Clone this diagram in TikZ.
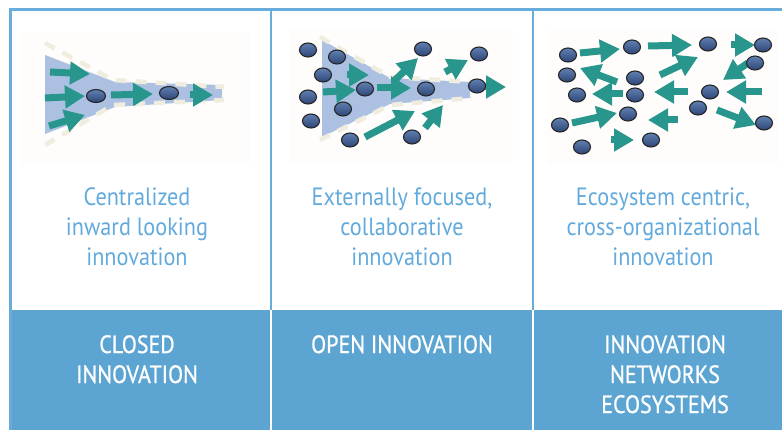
\documentclass[tikz,border=0pt]{standalone}
\usepackage{fontspec}
\usepackage{tikz}
\usetikzlibrary{arrows.meta,positioning}
\newfontfamily\capfont[FakeStretch=0.89]{PT Sans}
\newfontfamily\bandfont[FakeStretch=0.88,FakeBold=0.8]{PT Sans}
\definecolor{inband}{RGB}{92,164,210}
\definecolor{inline}{RGB}{104,172,220}
\definecolor{intext}{RGB}{98,170,220}
\definecolor{inteal}{RGB}{40,150,140}
\definecolor{infunnel}{RGB}{172,193,226}
\definecolor{incream}{RGB}{240,236,222}
\definecolor{inpaper}{RGB}{254,253,251}
\definecolor{indothi}{RGB}{96,128,178}
\definecolor{indotlo}{RGB}{46,70,118}
\tikzstyle{push} = [line width=7pt, draw=inteal, -{Triangle[length=20pt,width=22pt]}]
\tikzstyle{dot} = [draw=black!85, line width=1.1pt, top color=indothi, bottom color=indotlo]
\tikzstyle{rim} = [draw=incream, line width=4.5pt, dash pattern=on 11pt off 9pt]
\tikzstyle{caption} = [anchor=north, inner sep=0pt, align=center, text=intext, font=\capfont\fontsize{25}{30}\selectfont]
\tikzstyle{bandtext} = [caption, text=white, font=\bandfont\fontsize{25}{30}\selectfont]

\begin{document}
\begin{tikzpicture}[x=1pt, y=-1pt]
\useasboundingbox (0,0) rectangle (782,430);

% frame and bottom band
\fill[inband] (11,310) rectangle (782,430);
\draw[inline, line width=3pt] (10,431) -- (10,10) -- (783,10);
\draw[inline, line width=1.8pt] (271,10) -- (271,310) (533,10) -- (533,310);
\draw[white, line width=1.5pt] (271,310) -- (271,430) (533,310) -- (533,430);

% picture backgrounds
\fill[inpaper] (20,32) rectangle (250,165);
\fill[inpaper] (290,30) rectangle (513,165);
\fill[inpaper] (547,30) rectangle (778,165);

% closed funnel
\fill[infunnel] (45,55) -- (115,82) -- (222,85) -- (222,100) -- (115,107) -- (45,134) -- cycle;
\draw[rim] (45,43) -- (113,80) -- (224,87);
\draw[rim] (45,145) -- (113,105) -- (224,100);

% open funnel
\fill[infunnel] (322,40) -- (390,78) -- (470,82) -- (470,98) -- (390,104) -- (322,137) -- cycle;
\draw[rim] (320,37) -- (390,77) -- (472,82);
\draw[rim] (320,140) -- (390,105) -- (472,98);

% arrows
\foreach \xa/\ya/\xb/\yb in {50/72/90/74, 45/98/85/96, 49/126/85/115, 111/95/153/94, 190/95/213/95,
  347/75/369/75, 323/92/356/90, 377/88/411/88, 393/82/418/58, 445/72/468/60, 483/87/506/87,
  365/137/415/111, 425/128/443/105,
  580/53/620/49, 648/46/692/45, 731/45/755/45, 660/75/698/57, 617/82/580/68, 623/94/592/94,
  688/92/654/92, 748/63/723/80, 762/92/726/92, 572/123/617/113, 678/120/648/120,
  717/110/756/125, 611/140/634/140}
  \draw[push] (\xa,\ya) -- (\xb,\yb);

% actors
\foreach \x/\y in {96/96, 169/93}
  \draw[dot] (\x,\y) ellipse [x radius=9.5, y radius=6.5];
\foreach \x/\y in {308/50, 337/57, 323/75, 308/97, 365/89, 343/109, 311/121, 350/140,
  423/49, 479/54, 426/89, 477/86, 412/137,
  568/55, 632/47, 708/44, 763/45, 567/75, 635/78, 755/63, 577/95, 635/95, 710/92,
  698/108, 628/114, 560/125, 764/123, 582/147, 651/140}
  \draw[dot] (\x,\y) ellipse [x radius=8.5, y radius=7];

% descriptions
\node (closeddesc) [caption] at (137,188) {Centralized\\inward looking\\innovation};
\node (opendesc) [caption] at (402,188) {Externally focused,\\collaborative\\innovation};
\node (ecodesc) [caption] at (663,188) {Ecosystem centric,\\cross-organizational\\innovation};

% band titles
\node (closed) [bandtext] at (137,335) {CLOSED\\INNOVATION};
\node (open) [bandtext] at (402,335) {OPEN INNOVATION};
\node (eco) [bandtext] at (665,335) {INNOVATION\\NETWORKS\\ECOSYSTEMS};
\end{tikzpicture}
\end{document}
